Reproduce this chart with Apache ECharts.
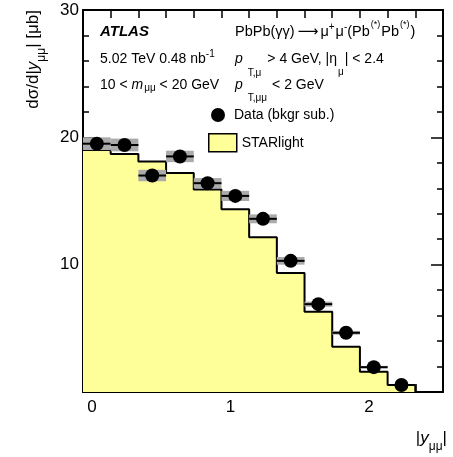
<!DOCTYPE html>
<html><head><meta charset="utf-8">
<script src="https://cdn.jsdelivr.net/npm/echarts@6/dist/echarts.min.js"></script>
<style>html,body{margin:0;padding:0;background:#fff}#c{width:453px;height:457px}</style>
</head><body><div id="c"></div>
<script>
// Bin edges of |y_mumu|
const binEdges = [0, 0.2, 0.4, 0.6, 0.8, 1.0, 1.2, 1.4, 1.6, 1.8, 2.0, 2.2, 2.4];
// Data (bkgr sub.) cross-section values [μb]
const dataValues = [19.5, 19.4, 17.0, 18.5, 16.4, 15.4, 13.6, 10.3, 6.9, 4.65, 1.95, 0.55];
// Systematic uncertainty (half-height of grey band)
const dataSyst = [0.5, 0.5, 0.45, 0.45, 0.4, 0.4, 0.35, 0.3, 0.2, 0.15, 0.1, 0.05];
// STARlight prediction
const starlight = [19.0, 18.7, 18.1, 17.2, 15.9, 14.35, 12.15, 9.35, 6.3, 3.55, 1.6, 0.55];
// Tick labels
const xTickLabels = [0, 1, 2];
const yTickLabels = [10, 20, 30];

const FAM = '"Liberation Sans", Arial, Helvetica, sans-serif';
const ctx = document.createElement('canvas').getContext('2d');
function fontStr(s){ return (s.it?'italic ':'') + (s.b?'bold ':'') + s.size + 'px ' + (s.fam || FAM); }
function measure(segs){ let w=0; segs.forEach(s=>{ctx.font=fontStr(s); w+=(s.gap||0)+ctx.measureText(s.t).width;}); return w; }
function runs(x0, y0, segs){
  const els=[]; let x=x0;
  segs.forEach(s=>{
    const f=fontStr(s); ctx.font=f;
    x+=(s.gap||0);
    els.push({type:'text', x:x, y:y0+(s.dy||0), silent:true,
      style:{text:s.t, font:f, fill:'#000', align:'left', verticalAlign:'middle'}});
    x+=ctx.measureText(s.t).width;
  });
  return els;
}

const graphics = [];
graphics.push(...runs(100, 32, [{t:'ATLAS', size:15, b:1, it:1}]));
graphics.push(...runs(235, 32, [
  {t:'PbPb(γγ)', size:14.5}, {t:'⟶', size:14.5, gap:3, fam:'"DejaVu Sans", sans-serif'},
  {t:'μ', size:14.5, gap:2}, {t:'+', size:10, dy:-5}, {t:'μ', size:14.5, gap:1}, {t:'-', size:10, dy:-5},
  {t:'(Pb', size:14.5}, {t:'(*)', size:9, dy:-7, gap:1}, {t:'Pb', size:14.5, gap:1}, {t:'(*)', size:9, dy:-7, gap:1}, {t:')', size:14.5, gap:1}
]));
graphics.push(...runs(100, 59, [{t:'5.02 TeV 0.48 nb', size:14}, {t:'-1', size:10, dy:-5}]));
graphics.push(...runs(235, 59, [
  {t:'p', size:14, it:1}, {t:'T,μ', size:10, dy:14, gap:5}, {t:'> 4 GeV, |η', size:14, gap:6},
  {t:'μ', size:10, dy:13, gap:1}, {t:'| < 2.4', size:14, gap:1}
]));
graphics.push(...runs(100, 85, [
  {t:'10 < ', size:14}, {t:'m', size:14, it:1}, {t:'μμ', size:10, dy:3, gap:1}, {t:' < 20 GeV', size:14}
]));
graphics.push(...runs(235, 85, [
  {t:'p', size:14, it:1}, {t:'T,μμ', size:10, dy:13, gap:5}, {t:'< 2 GeV', size:14, gap:5}
]));
// y-axis title (rotated)
const ySegs = [{t:'dσ/d|', size:17}, {t:'y', size:17, it:1}, {t:'μμ', size:12, dy:9}, {t:'| [μb]', size:17}];
const yL = measure(ySegs);
graphics.push({type:'group', x:33, y:10+yL, rotation:Math.PI/2, children: runs(0, 0, ySegs)});
// x-axis title
const xSegs = [{t:'|', size:17}, {t:'y', size:17, it:1}, {t:'μμ', size:12, dy:9}, {t:'|', size:17}];
const xL = measure(xSegs);
graphics.push(...runs(447 - xL, 438, xSegs));

const centers = dataValues.map((v,i)=>(binEdges[i]+binEdges[i+1])/2);
const bandData = dataValues.map((v,i)=>[binEdges[i], binEdges[i+1], v, dataSyst[i]]);
const pointData = dataValues.map((v,i)=>[centers[i], v]);
const histData = starlight.map((v,i)=>[binEdges[i], v]);
histData.push([binEdges[binEdges.length-1], starlight[starlight.length-1]]);
histData.push([binEdges[binEdges.length-1], 0]);

const chart = echarts.init(document.getElementById('c'), null, {renderer:'canvas'});
const axisLineStyle = {color:'#000', width:2};
chart.setOption({
  animation:false,
  grid:{left:83, right:10, top:10, bottom:65},
  xAxis:[{
    type:'value', min:0, max:2.6, interval:0.2, position:'bottom',
    axisLine:{show:true, onZero:false, lineStyle:axisLineStyle},
    axisTick:{show:true, inside:true, length:8, lineStyle:{color:'#000', width:1.5}},
    axisLabel:{show:true, margin:7, color:'#000', fontSize:17, fontFamily:FAM, padding:[0,0,0,18],
      formatter:v=>{const r=Math.round(v); return (Math.abs(v-r)<1e-6 && xTickLabels.indexOf(r)>=0)? String(r):'';}},
    splitLine:{show:false}
  },{
    type:'value', min:0, max:2.6, interval:0.2, position:'top',
    axisLine:{show:true, onZero:false, lineStyle:axisLineStyle},
    axisTick:{show:true, inside:true, length:8, lineStyle:{color:'#000', width:1.5}},
    axisLabel:{show:false}, splitLine:{show:false}
  }],
  yAxis:[{
    type:'value', min:0, max:30, interval:10, position:'left',
    axisLine:{show:true, onZero:false, lineStyle:axisLineStyle},
    axisTick:{show:true, inside:true, length:12, lineStyle:{color:'#000', width:1.5}},
    minorTick:{show:true, splitNumber:5, length:6, lineStyle:{color:'#000', width:1.5}},
    axisLabel:{show:true, margin:4, color:'#000', fontSize:17, fontFamily:FAM,
      formatter:v=>yTickLabels.indexOf(v)>=0?String(v):''},
    splitLine:{show:false}
  },{
    type:'value', min:0, max:30, interval:10, position:'right',
    axisLine:{show:true, onZero:false, lineStyle:axisLineStyle},
    axisTick:{show:true, inside:true, length:12, lineStyle:{color:'#000', width:1.5}},
    minorTick:{show:true, splitNumber:5, length:6, lineStyle:{color:'#000', width:1.5}},
    axisLabel:{show:false}, splitLine:{show:false}
  }],
  legend:[{
    left:206, top:103, orient:'vertical', itemWidth:28, itemHeight:14,
    textStyle:{fontSize:14, color:'#000', fontFamily:FAM, padding:[0,0,0,-3]},
    data:[{name:'Data (bkgr sub.)', icon:'circle', itemStyle:{color:'#000', opacity:1}}], selectedMode:false
  },{
    left:203, top:128, orient:'vertical', itemWidth:28, itemHeight:18,
    textStyle:{fontSize:14, color:'#000', fontFamily:FAM},
    data:[{name:'STARlight', icon:'rect', itemStyle:{color:'#ffff99', borderColor:'#000', borderWidth:1.5}}], selectedMode:false
  }],
  series:[{
    name:'STARlight', type:'line', data:histData, step:'end', showSymbol:false, symbol:'none',
    lineStyle:{color:'#000', width:2}, areaStyle:{color:'#ffff99', opacity:1}, z:1, silent:true
  },{
    name:'Data band', type:'custom', data:bandData, z:2, silent:true,
    renderItem:(params, api)=>{
      const lo=api.value(0), hi=api.value(1), v=api.value(2), s=api.value(3);
      const p1=api.coord([lo, v+s]), p2=api.coord([hi, v-s]);
      const l1=api.coord([lo, v]), l2=api.coord([hi, v]);
      return {type:'group', children:[
        {type:'rect', shape:{x:p1[0], y:p1[1], width:p2[0]-p1[0], height:p2[1]-p1[1]}, style:{fill:'#aaaaaa'}},
        {type:'line', shape:{x1:l1[0], y1:l1[1], x2:l2[0], y2:l2[1]}, style:{stroke:'#000', lineWidth:2}}
      ]};
    }
  },{
    name:'Data (bkgr sub.)', type:'scatter', data:pointData, symbol:'circle', symbolSize:14,
    itemStyle:{color:'#000', opacity:1}, z:3, silent:true
  }],
  graphic: graphics
});
</script></body></html>
